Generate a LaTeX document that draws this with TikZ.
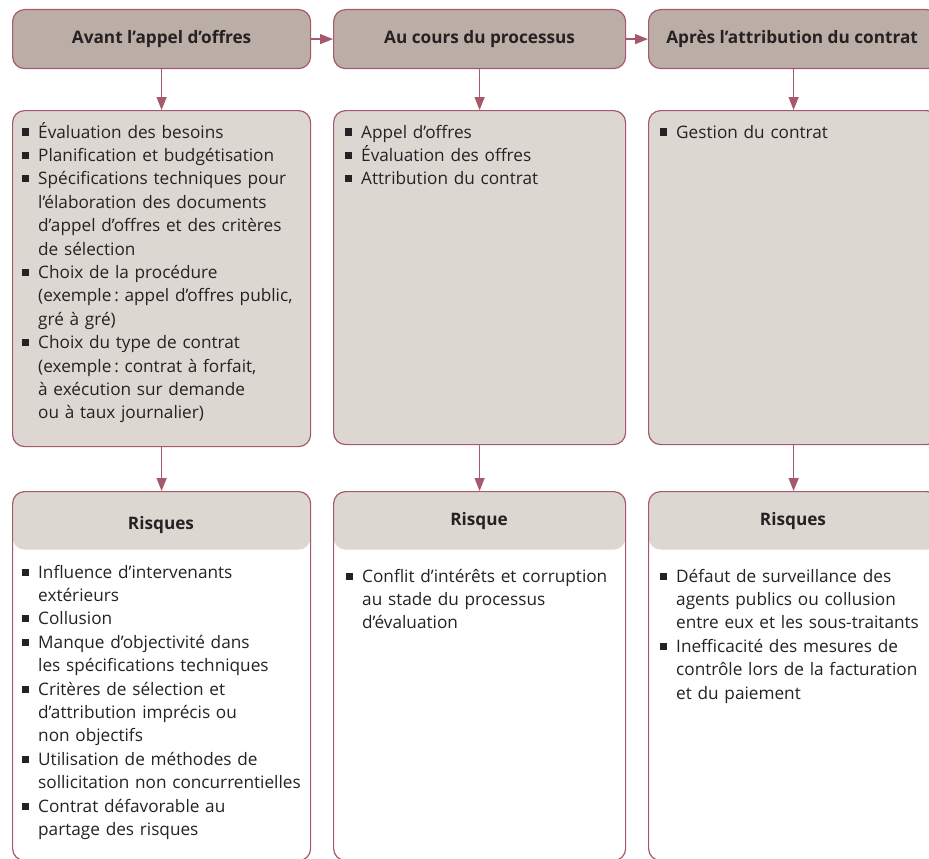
\documentclass[tikz,border=0pt]{standalone}
\usepackage{fontspec}
\setmainfont{Open Sans}
\usetikzlibrary{arrows.meta}
\definecolor{hdr}{HTML}{BBAEA6}
\definecolor{cnt}{HTML}{DDD7D2}
\definecolor{brd}{HTML}{A5596B}
\definecolor{txt}{HTML}{262223}
\newcommand{\bl}{\makebox[16pt][l]{\raisebox{2.5pt}{\rule{7pt}{7pt}}}}
\newcommand{\ind}{\hspace*{16pt}}
\frenchspacing
\begin{document}
\begin{tikzpicture}[x=1pt,y=-1pt,
  box/.style={draw=brd, line width=1.2pt, rounded corners=12pt, inner sep=0pt, anchor=north west},
  hdrbox/.style={box, fill=hdr, minimum height=59pt, font=\fontsize{17.2}{20}\selectfont\bfseries, text=txt},
  cntbox/.style={box, fill=cnt},
  riskbox/.style={box, fill=white, minimum height=369pt,
    path picture={\fill[cnt] (path picture bounding box.north west) rectangle ([yshift=-58pt]path picture bounding box.north east);}},
  risktitle/.style={anchor=base, inner sep=0pt, font=\fontsize{17.2}{20}\selectfont\bfseries, text=txt},
  list/.style={font=\fontsize{17.2}{23.4}\selectfont, text=txt, text width=300pt, align=left, inner sep=0pt, anchor=base west},
  arr/.style={draw=brd, line width=1.4pt, -{Triangle[width=10pt,length=13pt]}}]
\useasboundingbox (0,0) rectangle (929,859);
\clip (0,0) rectangle (929,859);
% headers
\node[hdrbox, minimum width=298pt] (h1) at (12,9) {Avant l’appel d’offres};
\node[hdrbox, minimum width=292pt] (h2) at (333,9) {Au cours du processus};
\node[hdrbox, minimum width=290pt] (h3) at (648,9) {\hspace*{-3pt}Après l’attribution du contrat};
% content boxes
\node[cntbox, minimum width=298pt, minimum height=336pt] (c1) at (12,110) {};
\node[cntbox, minimum width=292pt, minimum height=334pt] (c2) at (333,110) {};
\node[cntbox, minimum width=290pt, minimum height=334pt] (c3) at (648,110) {};
% risk boxes
\node[riskbox, minimum width=298pt] (r1) at (12,491) {};
\node[riskbox, minimum width=292pt] (r2) at (333,491) {};
\node[riskbox, minimum width=290pt] (r3) at (648,491) {};
\node[risktitle] (rt1) at (161,529) {Risques};
\node[risktitle] (rt2) at (479,525) {Risque};
\node[risktitle] (rt3) at (793,525) {Risques};
% arrows
\draw[arr] (h1) -- (h2);
\draw[arr] (h2) -- (h3);
\draw[arr] (h1) -- (c1);
\draw[arr] (h2) -- (c2);
\draw[arr] (h3) -- (c3);
\draw[arr] (c1) -- (r1);
\draw[arr] (c2) -- (r2);
\draw[arr] (c3) -- (r3);
% lists
\node[list] (l1) at (22,138) {\bl Évaluation des besoins\\
\bl Planification et budgétisation\\
\bl Spécifications techniques pour\\
\ind l’élaboration des documents\\
\ind d’appel d’offres et des critères\\
\ind de sélection\\
\bl Choix de la procédure\\
\ind (exemple\,:\ appel d’offres public,\\
\ind gré à gré)\\
\bl Choix du type de contrat\\
\ind (exemple\,:\ contrat à forfait,\\
\ind à exécution sur demande\\
\ind ou à taux journalier)};
\node[list] (l2) at (345,138) {\bl Appel d’offres\\
\bl Évaluation des offres\\
\bl Attribution du contrat};
\node[list] (l3) at (660,138) {\bl Gestion du contrat};
\node[list] (m1) at (22,578) {\bl Influence d’intervenants\\
\ind extérieurs\\
\bl Collusion\\
\bl Manque d’objectivité dans\\
\ind les spécifications techniques\\
\bl Critères de sélection et\\
\ind d’attribution imprécis ou\\
\ind non objectifs\\
\bl Utilisation de méthodes de\\
\ind sollicitation non concurrentielles\\
\bl Contrat défavorable au\\
\ind partage des risques};
\node[list] (m2) at (346,582) {\bl Conflit d’intérêts et corruption\\
\ind au stade du processus\\
\ind d’évaluation};
\node[list] (m3) at (660,582) {\bl Défaut de surveillance des\\
\ind agents publics ou collusion\\
\ind entre eux et les sous-traitants\\
\bl Inefficacité des mesures de\\
\ind contrôle lors de la facturation\\
\ind et du paiement};
\end{tikzpicture}
\end{document}
